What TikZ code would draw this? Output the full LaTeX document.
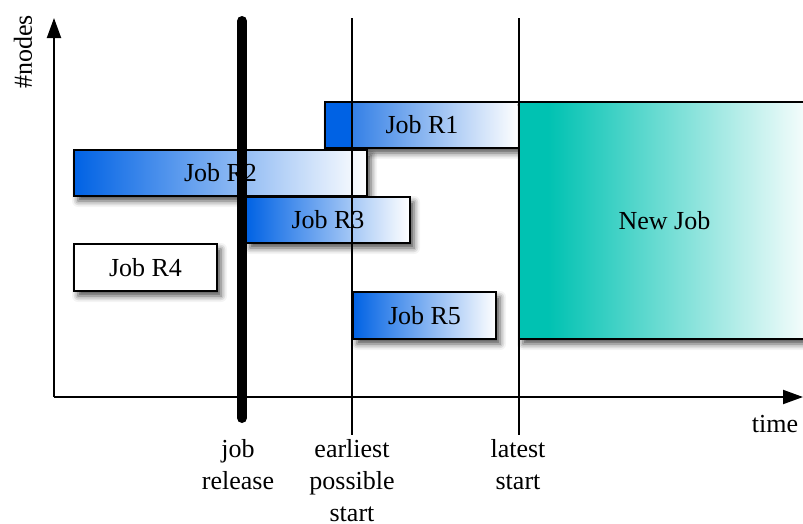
\documentclass[tikz,border=0pt]{standalone}
\usepackage{fontspec}
\setmainfont{Liberation Serif}
\usetikzlibrary{arrows.meta,shadows.blur}

\definecolor{jobblue}{RGB}{0,98,228}
\definecolor{jobmid}{RGB}{52,128,230}
\definecolor{newteal}{RGB}{0,194,178}

% blue-to-white fade for the running jobs
\pgfdeclarehorizontalshading{jobfade}{100bp}{color(0bp)=(jobblue); color(25bp)=(jobblue); color(75bp)=(white); color(100bp)=(white)}
% R1: solid part before the earliest possible start
\pgfdeclarehorizontalshading{jobfadeone}{100bp}{color(0bp)=(jobblue); color(25bp)=(jobblue); color(31.9bp)=(jobblue); color(32bp)=(jobmid); color(75bp)=(white); color(100bp)=(white)}
% teal fade for the new job
\pgfdeclarehorizontalshading{newfade}{100bp}{color(0bp)=(newteal); color(25bp)=(newteal); color(30bp)=(newteal); color(76bp)=(white); color(100bp)=(white)}

\begin{document}
\begin{tikzpicture}[x=1pt,y=-1pt,
  font=\fontsize{26}{32}\selectfont,
  box/.style={draw=black, line width=2pt, rectangle, inner sep=0pt,
    blur shadow={shadow xshift=4pt, shadow yshift=-5pt, shadow blur radius=6pt, shadow opacity=70}},
  bluejob/.style={box, shading=jobfade},
  axis/.style={line width=2pt, -{Triangle[length=20pt,width=14pt]}},
  marker/.style={line width=2pt},
  caption/.style={anchor=north, align=center, inner sep=0pt}]
\useasboundingbox (0,0) rectangle (803,523);
\clip (0,0) rectangle (803,523);

% jobs
\node[box, shading=jobfadeone, minimum width=194pt, minimum height=46pt] (r1) at (422,125) {Job R1};
\node[box, shading=newfade, minimum width=291pt, minimum height=237pt] (new) at (664.5,220.5) {New Job};
\node[bluejob, minimum width=293pt, minimum height=46pt] (r2) at (220.5,173) {Job R2};
\node[bluejob, minimum width=164pt, minimum height=46pt] (r3) at (328,220) {Job R3};
\node[box, fill=white, minimum width=143pt, minimum height=47pt] (r4) at (145.5,267.5) {Job R4};
\node[bluejob, minimum width=143pt, minimum height=47pt] (r5) at (424.5,315.5) {Job R5};

% axes
\coordinate (origin) at (54,397);
\coordinate (ytip) at (54,18);
\coordinate (xtip) at (803,397);
\draw[axis] (origin) -- (ytip);
\draw[axis] (origin) -- (xtip);
\node[rotate=90] (ylabel) at (23,52) {\#nodes};
\node[anchor=base] (xlabel) at (775,432) {time};

% time markers
\coordinate (relTop) at (242,21);
\coordinate (relBot) at (242,418);
\draw[line width=10pt, line cap=round] (relTop) -- (relBot);
\coordinate (eTop) at (352,18);
\coordinate (eBot) at (352,435);
\draw[marker] (eTop) -- (eBot);
\coordinate (lTop) at (519,18);
\coordinate (lBot) at (519,435);
\draw[marker] (lTop) -- (lBot);

% marker captions
\node[caption] (relcap) at (238,439) {job\\release};
\node[caption] (ecap) at (352,439) {earliest\\possible\\start};
\node[caption] (lcap) at (518,439) {latest\\start};
\end{tikzpicture}
\end{document}
